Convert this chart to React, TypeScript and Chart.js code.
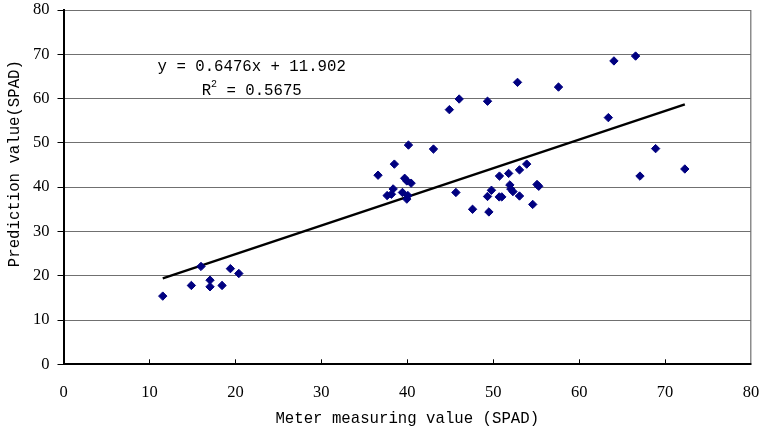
import React, { useEffect, useRef } from "react";
import { Chart, registerables } from "chart.js";

Chart.register(...registerables);

// Scatter data: meter measuring value (SPAD) vs prediction value (SPAD)
const meterValues: number[] = [
  11.55, 14.88, 16.0, 17.05, 17.05, 18.45, 19.42, 20.4,
  46.04, 49.34, 44.9, 40.14, 43.05, 38.5, 36.6, 39.7, 39.95, 40.45,
  38.36, 37.66, 38.16, 39.44, 40.07, 39.95, 45.66, 47.6, 49.5, 49.34,
  49.8, 50.73, 51.8, 53.06, 53.9, 51.94, 52.05, 52.3, 50.7, 51.0,
  53.06, 55.1, 55.3, 54.6, 52.83, 57.6,
  64.05, 66.57, 63.4, 68.9, 67.08, 72.3,
];
const predictedValues: number[] = [
  15.4, 17.8, 22.1, 19.0, 17.5, 17.8, 21.6, 20.5,
  59.9, 59.4, 57.5, 49.5, 48.6, 45.2, 42.7, 42.0, 41.4, 40.9,
  39.6, 38.1, 38.4, 38.8, 38.1, 37.3, 38.8, 35.0, 34.4, 37.9,
  39.3, 42.5, 43.1, 43.9, 45.2, 40.5, 39.6, 39.0, 37.8, 37.8,
  38.0, 40.6, 40.2, 36.1, 63.66, 62.6,
  68.5, 69.6, 55.7, 48.7, 42.5, 44.1,
];

// Linear trend line endpoints
const trendX: number[] = [11.55, 72.3];
const trendY: number[] = [19.4, 58.7];

const xTicks: number[] = [0, 10, 20, 30, 40, 50, 60, 70, 80];
const yTicks: number[] = [0, 10, 20, 30, 40, 50, 60, 70, 80];

const xTitle = "Meter measuring value (SPAD)";
const yTitle = "     Prediction value(SPAD)";
const equationText = "y = 0.6476x + 11.902";
const r2Value = " = 0.5675";
const equationAnchor = { x: 21.9, y1: 67.2, y2: 61.8 };

const MONO = "'Liberation Mono', monospace";
const SERIF = "'Liberation Serif', serif";

const extrasPlugin = {
  id: "extras",
  afterDatasetsDraw(chart: any) {
    const { ctx, chartArea, scales } = chart;
    const xs = scales.x;
    const ys = scales.y;
    ctx.save();
    // inward tick marks on the x axis
    ctx.strokeStyle = "#000000";
    ctx.lineWidth = 1;
    for (const v of xTicks) {
      if (v === 0 || v === 80) continue;
      const px = Math.round(xs.getPixelForValue(v)) + 0.5;
      ctx.beginPath();
      ctx.moveTo(px, chartArea.bottom);
      ctx.lineTo(px, chartArea.bottom - 5);
      ctx.stroke();
    }
    // equation text
    ctx.fillStyle = "#000000";
    ctx.font = `15.7px ${MONO}`;
    ctx.textAlign = "center";
    ctx.textBaseline = "middle";
    const cx = xs.getPixelForValue(equationAnchor.x);
    ctx.fillText(equationText, cx, ys.getPixelForValue(equationAnchor.y1));
    // R^2 line
    const y2 = ys.getPixelForValue(equationAnchor.y2);
    ctx.font = `15.7px ${MONO}`;
    const wR = ctx.measureText("R").width;
    const wRest = ctx.measureText(r2Value).width;
    ctx.font = `10px ${MONO}`;
    const wSup = ctx.measureText("2").width;
    const total = wR + wSup + wRest;
    let sx = cx - total / 2;
    ctx.textAlign = "left";
    ctx.font = `15.7px ${MONO}`;
    ctx.fillText("R", sx, y2);
    sx += wR;
    ctx.font = `10px ${MONO}`;
    ctx.fillText("2", sx, y2 - 6);
    sx += wSup;
    ctx.font = `15.7px ${MONO}`;
    ctx.fillText(r2Value, sx, y2);
    ctx.restore();
  },
};

export default function App() {
  const canvasRef = useRef<HTMLCanvasElement | null>(null);

  useEffect(() => {
    if (!canvasRef.current) return;
    const points = meterValues.map((x, i) => ({ x, y: predictedValues[i] }));
    const trend = trendX.map((x, i) => ({ x, y: trendY[i] }));
    const chart = new Chart(canvasRef.current, {
      type: "scatter",
      data: {
        datasets: [
          {
            type: "line",
            label: "trend",
            data: trend,
            borderColor: "#000000",
            borderWidth: 2.5,
            pointRadius: 0,
            fill: false,
            order: 2,
          } as any,
          {
            label: "data",
            data: points,
            pointStyle: "rectRot",
            pointRadius: 4.2,
            pointBackgroundColor: "#000080",
            pointBorderColor: "#000080",
            pointBorderWidth: 1,
            order: 1,
          },
        ],
      },
      options: {
        animation: false,
        responsive: false,
        layout: { padding: { left: 0, right: 12, top: 10, bottom: 0 } },
        plugins: {
          legend: { display: false },
          tooltip: { enabled: false },
        },
        scales: {
          x: {
            type: "linear",
            min: 0,
            max: 80,
            afterFit: (s: any) => {
              s.height = 67.7;
              s.paddingLeft = 0;
              s.paddingRight = 0;
            },
            afterBuildTicks: (s: any) => {
              s.ticks = xTicks.map((v) => ({ value: v }));
            },
            ticks: {
              color: "#000000",
              font: { family: SERIF, size: 16.5 },
              padding: 18,
              maxRotation: 0,
            },
            grid: {
              drawTicks: false,
              color: (c: any) =>
                c.tick && c.tick.value === 80 ? "#8c8c8c" : "rgba(0,0,0,0)",
              lineWidth: 1.5,
            },
            border: { display: true, color: "#000000", width: 2 },
            title: {
              display: true,
              text: xTitle,
              color: "#000000",
              font: { family: MONO, size: 15.7 },
              padding: { top: 0, bottom: 3.6 },
            },
          },
          y: {
            type: "linear",
            min: 0,
            max: 80,
            afterFit: (s: any) => {
              s.width = 63.5;
              s.paddingTop = 0;
              s.paddingBottom = 0;
            },
            afterBuildTicks: (s: any) => {
              s.ticks = yTicks.map((v) => ({ value: v }));
            },
            ticks: {
              color: "#000000",
              font: { family: SERIF, size: 16.5 },
              padding: 8,
            },
            grid: {
              color: (c: any) =>
                c.tick && c.tick.value === 0 ? "rgba(0,0,0,0)" : "#707070",
              tickColor: "#000000",
              tickLength: 6,
              lineWidth: 1,
            },
            border: { display: true, color: "#000000", width: 2 },
            title: {
              display: true,
              text: yTitle,
              color: "#000000",
              font: { family: MONO, size: 15.7 },
              padding: { top: 5.6, bottom: 0 },
            },
          },
        },
      },
      plugins: [extrasPlugin],
    });
    return () => chart.destroy();
  }, []);

  return (
    <div style={{ position: "fixed", left: 0, top: 0, width: 763, height: 432, background: "#ffffff" }}>
      <canvas ref={canvasRef} width={763} height={432} style={{ display: "block" }} />
    </div>
  );
}
